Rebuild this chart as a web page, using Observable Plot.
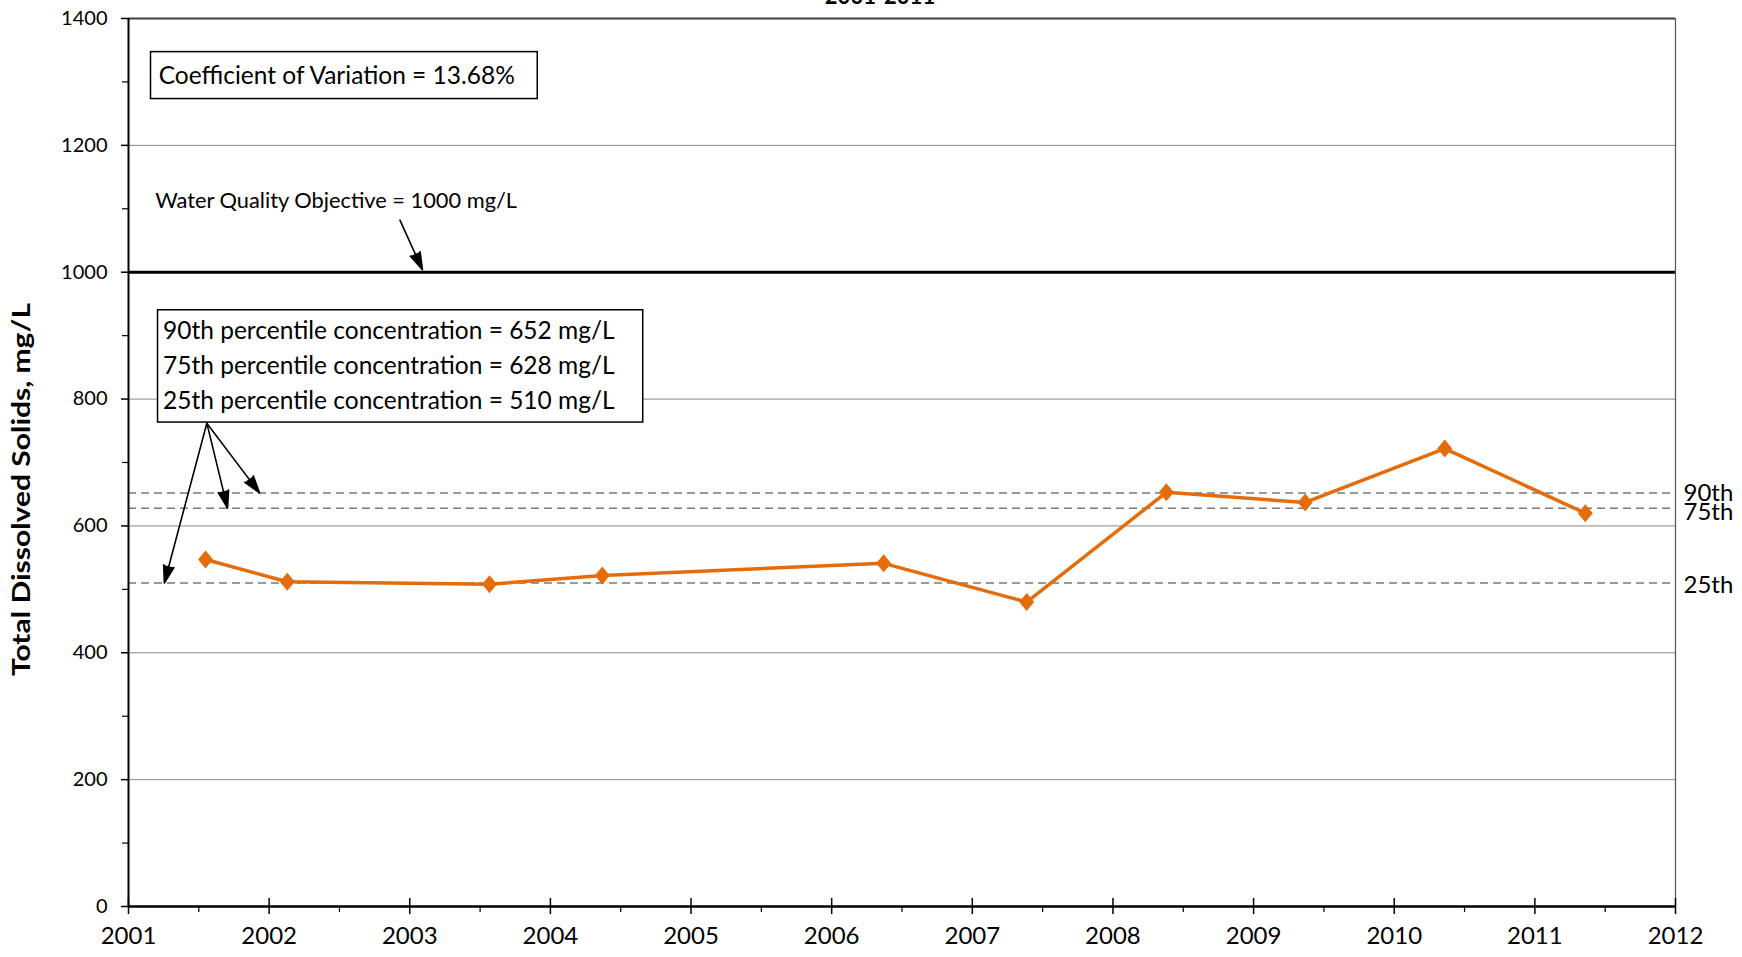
<!DOCTYPE html>
<html><head><meta charset="utf-8">
<script src="https://cdn.jsdelivr.net/npm/d3@7"></script>
<script src="https://cdn.jsdelivr.net/npm/@observablehq/plot@0.6"></script>
<style>
html,body{margin:0;padding:0;background:#fff;}
#chart{position:absolute;left:0;top:0;}
</style>
</head><body><div id="chart"></div>
<script>
// ---- data ----
const sampleDates = ["2001-07-20","2002-02-17","2003-07-27","2004-05-15","2006-05-16",
                     "2007-05-22","2008-05-19","2009-05-15","2010-05-12","2011-05-12"];
const tdsValues = [547, 512, 508, 522, 541, 480, 653, 637, 722, 620];
const percentileNames = ["90th", "75th", "25th"];
const percentileValues = [652, 628, 510];
const objectiveValue = 1000;
const yearTicks = d3.range(2001, 2013);
const yMajorTicks = [0, 200, 400, 600, 800, 1000, 1200, 1400];
const yMinorTicks = [100, 300, 500, 700, 900, 1100, 1300];
const titleText = "2001-2011";
const yLabel = "Total Dissolved Solids, mg/L";
const noteCV = "Coefficient of Variation = 13.68%";
const notePct = ["90th percentile concentration = 652 mg/L",
                 "75th percentile concentration = 628 mg/L",
                 "25th percentile concentration = 510 mg/L"];
const noteWQO = "Water Quality Objective = 1000 mg/L";

// decimal year from an ISO date string
function decYear(s) {
  const d = new Date(s + "T00:00:00Z");
  const y = d.getUTCFullYear();
  const a = Date.UTC(y, 0, 1), b = Date.UTC(y + 1, 0, 1);
  return y + (d - a) / (b - a);
}
const data = sampleDates.map((s, i) => ({year: decYear(s), tds: tdsValues[i]}));
const pct = percentileNames.map((n, i) => ({name: n, value: percentileValues[i]}));
const halfYears = yearTicks.slice(0, -1).map(y => y + 0.5);

const ORANGE = "#E46C0A";
const FONT = "Lato, 'Open Sans', sans-serif";

const diamond = {
  draw(ctx, size) {
    const r = Math.sqrt(size / Math.PI);
    ctx.moveTo(0, -r * 1.2);
    ctx.lineTo(r, 0);
    ctx.lineTo(0, r * 1.2);
    ctx.lineTo(-r, 0);
    ctx.closePath();
  }
};

const chart = Plot.plot({
  width: 1742,
  height: 957,
  marginLeft: 128,
  marginRight: 67,
  marginTop: 18,
  marginBottom: 51,
  style: {fontFamily: FONT, color: "black", background: "white"},
  x: {type: "linear", domain: [2001, 2012], axis: null},
  y: {domain: [0, 1400], axis: null},
  marks: [
    // gridlines
    Plot.ruleY(yMajorTicks.filter(v => v > 0 && v < 1400 && v !== objectiveValue), {stroke: "#878787", strokeWidth: 1}),
    // percentile lines
    Plot.ruleY(pct, {y: "value", stroke: "#7a7a7a", strokeWidth: 1.5, strokeDasharray: "8,5"}),
    // objective line
    Plot.ruleY([objectiveValue], {stroke: "black", strokeWidth: 3}),
    // frame
    Plot.ruleY([1400], {stroke: "#404040", strokeWidth: 2}),
    Plot.ruleX([2012], {stroke: "#555", strokeWidth: 1.2}),
    Plot.ruleX([2001], {stroke: "black", strokeWidth: 2}),
    Plot.ruleY([0], {stroke: "black", strokeWidth: 2.5}),
    // axes
    Plot.axisY({ticks: yMajorTicks, label: null, tickSize: 7, tickPadding: 14, fontSize: 20, tickFormat: d => String(d), strokeWidth: 1.5}),
    Plot.axisY({ticks: yMinorTicks, label: null, tickSize: 6, tickFormat: () => "", strokeWidth: 1.2}),
    Plot.axisX({ticks: yearTicks, label: null, tickSize: 8, tickPadding: 12, fontSize: 24, tickFormat: d3.format("d"), strokeWidth: 1.5}),
    Plot.axisX({ticks: halfYears, label: null, tickSize: 6, tickFormat: () => "", strokeWidth: 1.2}),
    Plot.ruleX(yearTicks, {y1: 0, y2: 0, insetBottom: 8, stroke: "black", strokeWidth: 1.5}),
    // percentile labels at right
    Plot.text(pct, {className: "pctlab", x: 2012, y: "value", text: "name", textAnchor: "start", dx: 8, fontSize: 24}),
    // annotation boxes
    Plot.rect([noteCV], {x1: 2001.16, x2: 2003.91, y1: 1273, y2: 1347, fill: "white", stroke: "black", strokeWidth: 1.5}),
    Plot.text([noteCV], {x: 2001.2, y: 1309, textAnchor: "start", fontSize: 24.5, dx: 2}),
    Plot.rect([0], {x1: 2001.21, x2: 2004.66, y1: 763, y2: 940, fill: "white", stroke: "black", strokeWidth: 1.5}),
    Plot.text([notePct.join("\n")], {x: 2001.21, y: 857, textAnchor: "start", fontSize: 24.5, lineHeight: 1.41, dx: 5}),
    Plot.text([noteWQO], {x: 2001.19, y: 1113, textAnchor: "start", fontSize: 21.8}),
    // arrows
    Plot.arrow([0], {x1: 2002.93, y1: 1082, x2: 2003.09, y2: 1004, stroke: "black", fill: "black", strokeWidth: 1.6, headLength: 17, headAngle: 34}),
    Plot.arrow(pct, {x1: 2001.557, y1: 762, x2: [2001.932, 2001.704, 2001.255], y2: "value", stroke: "black", fill: "black", strokeWidth: 1.6, headLength: 17, headAngle: 34}),
    // series
    Plot.line(data, {x: "year", y: "tds", stroke: ORANGE, strokeWidth: 3.5}),
    Plot.dot(data, {x: "year", y: "tds", symbol: diamond, r: 7.5, fill: ORANGE, stroke: "none"}),
    // y label and title
    Plot.text([yLabel], {className: "ylab", frameAnchor: "left", dx: -106, dy: 27, rotate: -90, fontSize: 24, fontWeight: "bold"}),
    Plot.text([titleText], {frameAnchor: "top", dx: -22, dy: -15, lineAnchor: "bottom", fontSize: 22, fontWeight: "bold"})
  ]
});
// stretch the y-axis title to the reference's length (start-anchored, centred by hand)
const yl = chart.querySelector(".ylab text");
if (yl) {
  yl.setAttribute("text-anchor", "start");
  yl.setAttribute("x", -186.5);
  yl.setAttribute("textLength", 373);
  yl.setAttribute("lengthAdjust", "spacingAndGlyphs");
}
// nudge the right-side percentile labels apart, as in the reference
const nudges = [0, 4.4, 2.5];
chart.querySelectorAll(".pctlab text").forEach((t, i) => {
  t.setAttribute("dy", `${nudges[i]}px`);
});
document.getElementById("chart").appendChild(chart);
</script>
</body></html>
